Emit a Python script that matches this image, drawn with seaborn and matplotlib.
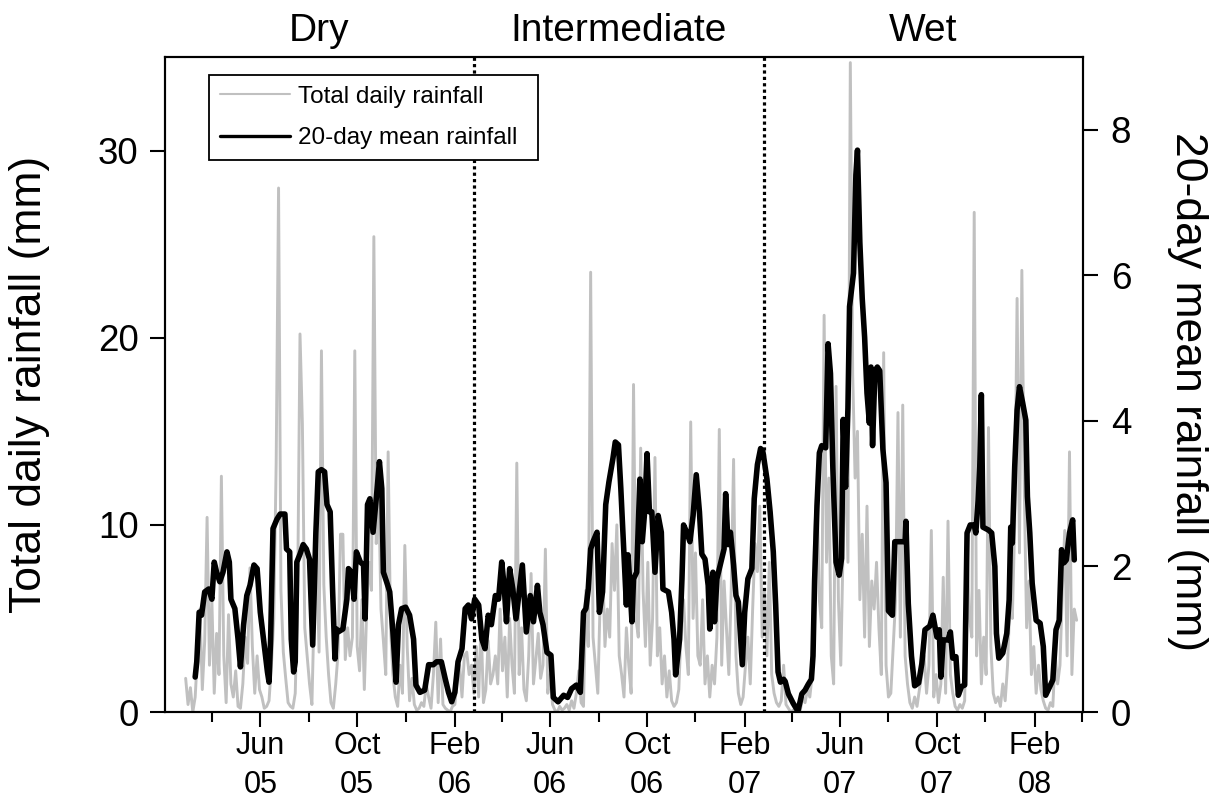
import pandas as pd
import matplotlib
matplotlib.use("Agg")
import matplotlib.pyplot as plt
import matplotlib.dates as mdates
from matplotlib.lines import Line2D
from matplotlib.transforms import blended_transform_factory
import seaborn as sns

# ---------------- data ----------------
# Total daily rainfall (mm), one reading every 3 days from the start date
daily_start = "2005-02-27"
daily_step = "3D"
daily_rain_mm = [
    1.8, 0.4, 1.3, 0.0, 0.8, 3.2, 5.5, 1.2, 3.8, 10.4,
    2.5, 6.0, 1.0, 4.2, 2.0, 12.6, 3.0, 0.5, 5.2, 1.5,
    0.8, 2.2, 0.3, 0.2, 1.5, 4.0, 2.6, 7.7, 3.5, 1.0,
    3.0, 1.2, 0.8, 0.2, 0.3, 0.6, 2.5, 5.0, 13.3, 28.0,
    6.5, 3.2, 1.8, 0.5, 0.3, 0.2, 1.0, 6.2, 20.2, 15.4,
    4.5, 3.0, 1.5, 0.4, 5.8, 8.5, 3.2, 19.3, 6.8, 4.0,
    2.0, 0.5, 0.2, 1.5, 3.2, 9.5, 9.5, 2.8, 4.5, 3.0,
    4.0, 19.3, 3.5, 2.2, 6.0, 1.2, 5.5, 8.0, 6.5, 25.4,
    9.0, 12.0, 5.5, 3.8, 2.0, 13.9, 4.5, 2.0, 0.8, 0.3,
    2.5, 1.0, 8.9, 3.5, 0.6, 1.8, 0.4, 0.1, 0.2, 0.5,
    0.3, 1.5, 0.8, 0.2, 2.0, 4.8, 0.5, 3.9, 0.4, 0.2,
    0.1, 0.0, 0.3, 0.4, 1.8, 2.5, 0.8, 3.0, 3.2, 2.0,
    2.5, 1.0, 3.5, 0.8, 4.8, 0.5, 1.2, 3.8, 1.5, 2.0,
    3.0, 1.5, 5.5, 2.2, 4.0, 0.8, 5.0, 2.5, 1.0, 13.3,
    2.0, 4.5, 1.2, 0.6, 3.0, 7.4, 1.5, 2.8, 4.2, 1.8,
    2.5, 8.7, 1.0, 2.0, 0.4, 0.1, 0.0, 0.3, 0.1, 0.2,
    0.4, 0.1, 0.6, 0.2, 1.0, 2.2, 0.5, 0.3, 6.5, 3.5,
    23.5, 4.0, 2.5, 1.0, 6.0, 8.0, 3.5, 5.5, 4.0, 9.0,
    6.5, 10.0, 3.0, 2.0, 0.8, 4.5, 2.5, 1.0, 17.5, 5.0,
    4.0, 14.1, 6.5, 3.5, 8.0, 2.5, 5.0, 13.6, 3.0, 4.5,
    1.5, 3.0, 0.8, 2.2, 0.6, 0.3, 0.5, 1.2, 4.5, 6.0,
    3.5, 2.0, 15.5, 5.0, 8.5, 3.0, 2.5, 6.0, 1.5, 3.0,
    0.8, 2.5, 1.5, 4.0, 15.1, 2.5, 7.0, 4.5, 2.0, 6.5,
    13.5, 3.0, 1.0, 0.4, 0.8, 2.5, 4.0, 1.5, 5.5, 9.0,
    7.5, 11.0, 4.0, 6.5, 3.0, 8.0, 2.0, 1.0, 0.5, 0.3,
    0.6, 2.5, 0.4, 0.2, 0.0, 0.1, 0.0, 0.3, 0.1, 0.8,
    0.5, 1.2, 0.8, 2.0, 9.5, 12.0, 6.0, 4.5, 21.2, 8.0,
    12.5, 3.0, 1.5, 17.4, 6.0, 2.5, 9.0, 14.0, 8.0, 34.7,
    18.0, 12.5, 15.0, 6.0, 9.5, 4.0, 11.0, 3.5, 7.0, 5.5,
    8.0, 4.5, 2.0, 19.2, 2.5, 0.8, 1.0, 3.5, 6.0, 16.0,
    4.0, 16.4, 3.0, 1.5, 0.5, 0.2, 0.8, 0.3, 1.2, 2.0,
    3.0, 1.0, 2.5, 9.7, 0.8, 2.0, 0.5, 1.5, 7.2, 1.0,
    10.2, 2.0, 1.0, 0.3, 0.1, 0.4, 0.2, 0.6, 9.0, 5.0,
    4.0, 26.7, 3.0, 6.5, 1.5, 4.0, 2.0, 15.2, 3.5, 1.0,
    0.5, 0.8, 0.3, 1.5, 0.6, 2.5, 6.0, 5.0, 10.0, 22.1,
    8.5, 23.6, 12.0, 4.5, 7.0, 2.0, 3.5, 1.0, 2.5, 1.2,
    0.6, 0.2, 0.1, 0.5, 0.3, 3.0, 1.5, 2.5, 6.5, 9.7,
    3.0, 13.9, 2.0, 5.5, 4.9,
]

# 20-day running mean rainfall (mm), keyed by days since the origin date
mean_origin = "2005-02-01"
mean_day = [
    38, 40, 43, 46, 50, 55, 59, 62, 65, 69, 73, 78, 81, 83, 88, 92, 95, 99,
    103, 107, 112, 116, 120, 124, 129, 131, 133, 136, 141, 145, 151, 153, 157,
    159, 162, 164, 166, 170, 174, 178, 182, 186, 188, 190, 193, 197, 201, 204,
    208, 211, 214, 216, 218, 224, 229, 231, 235, 238, 241, 246, 250, 252, 255,
    258, 262, 266, 270, 273, 275, 279, 283, 287, 291, 294, 298, 303, 308, 313,
    316, 321, 327, 332, 338, 342, 348, 353, 357, 361, 365, 369, 374, 378, 382,
    386, 390, 395, 399, 403, 407, 411, 416, 420, 424, 427, 430, 434, 438, 442,
    446, 450, 455, 460, 464, 469, 472, 476, 481, 486, 489, 495, 502, 507, 512,
    518, 523, 527, 530, 533, 536, 539, 544, 547, 551, 555, 559, 564, 567, 571,
    574, 577, 581, 583, 585, 588, 590, 594, 598, 601, 604, 607, 610, 613, 617,
    621, 625, 627, 634, 638, 641, 643, 648, 651, 653, 657, 661, 665, 669, 673,
    676, 680, 684, 686, 690, 692, 695, 700, 704, 706, 709, 712, 716, 719, 722,
    725, 727, 730, 734, 739, 742, 746, 750, 753, 758, 762, 766, 769, 772, 775,
    779, 781, 785, 791, 797, 802, 806, 810, 814, 816, 818, 821, 824, 827, 832,
    835, 838, 841, 845, 849, 852, 854, 857, 860, 862, 867, 870, 872, 875, 878,
    881, 884, 887, 889, 891, 894, 897, 900, 904, 908, 911, 916, 919, 925, 932,
    933, 936, 940, 944, 949, 953, 957, 963, 967, 972, 975, 977, 980, 986, 989,
    992, 996, 999, 1003, 1007, 1010, 1014, 1019, 1021, 1024, 1026, 1028, 1030,
    1037, 1041, 1045, 1047, 1050, 1055, 1060, 1063, 1065, 1067, 1070, 1073,
    1076, 1080, 1084, 1086, 1089, 1092, 1097, 1102, 1106, 1109, 1112, 1118,
    1122, 1126, 1129, 1132, 1135, 1139, 1143, 1145,
]
mean_rain_mm = [
    0.48, 0.69, 1.37, 1.33, 1.65, 1.69, 1.55, 2.06, 1.92, 1.79, 1.92, 2.20, 2.06, 1.55, 1.42, 1.00, 0.62, 1.20,
    1.60, 1.74, 2.02, 1.97, 1.37, 1.00, 0.55, 0.41, 1.00, 2.52, 2.65, 2.72, 2.72, 2.24, 2.20,
    1.00, 0.55, 0.69, 2.06, 2.17, 2.30, 2.24, 2.10, 0.92, 1.69, 2.47, 3.30, 3.33, 3.30, 2.85,
    2.75, 1.69, 0.73, 1.14, 1.10, 1.14, 1.55, 1.97, 1.92, 1.55, 2.20, 2.06, 2.02, 1.28, 2.85,
    2.93, 2.47, 2.93, 3.44, 3.07, 1.92, 1.79, 1.65, 1.10, 0.41, 1.20, 1.42, 1.44, 1.33, 1.00,
    0.37, 0.27, 0.30, 0.65, 0.65, 0.69, 0.69, 0.45, 0.27, 0.14, 0.27, 0.69, 0.87, 1.42, 1.47,
    1.28, 1.55, 1.47, 1.00, 0.87, 1.33, 1.20, 1.60, 1.55, 2.06, 1.74, 1.24, 1.97, 1.69, 1.28,
    1.65, 2.02, 1.10, 1.60, 1.24, 1.74, 1.37, 1.20, 0.82, 0.78, 0.20, 0.14, 0.23, 0.20, 0.32,
    0.37, 0.27, 1.37, 1.42, 1.69, 2.24, 2.34, 2.47, 1.37, 1.65, 2.85, 3.16, 3.48, 3.71, 3.67,
    3.07, 2.38, 1.47, 2.16, 1.83, 1.24, 1.83, 1.92, 3.20, 2.34, 2.75, 3.55, 2.75, 2.75, 1.92,
    2.70, 2.47, 1.69, 1.65, 1.37, 1.00, 0.51, 1.00, 1.83, 2.57, 2.47, 2.34, 2.70, 3.26, 2.75,
    2.17, 2.10, 1.74, 1.14, 1.92, 1.24, 1.83, 2.06, 2.24, 3.00, 2.30, 2.47, 2.02, 1.60, 1.51,
    1.00, 0.65, 1.37, 1.83, 1.97, 2.93, 3.40, 3.62, 3.57, 3.20, 2.75, 2.20, 1.47, 0.55, 0.41,
    0.45, 0.42, 0.25, 0.12, 0.01, 0.25, 0.30, 0.38, 0.45, 0.77, 1.80, 2.83, 3.56, 3.66, 3.63,
    5.06, 4.65, 3.35, 2.06, 1.88, 2.11, 4.02, 3.09, 4.18, 5.57, 6.03, 7.38, 7.72, 6.45, 5.68,
    5.15, 4.38, 3.97, 4.74, 3.66, 4.69, 4.74, 4.69, 3.61, 3.15, 1.39, 1.33, 2.34, 2.34, 2.34,
    2.62, 1.49, 0.77, 0.36, 0.40, 0.66, 1.13, 1.18, 1.33, 1.03, 1.13, 0.48, 0.99, 0.99, 1.10,
    0.74, 0.76, 0.23, 0.35, 0.37, 2.46, 2.57, 2.57, 2.46, 2.91, 3.37, 4.36, 2.54,
    2.50, 2.46, 2.00, 1.08, 0.74, 0.81, 1.08, 1.54, 2.54, 2.32, 3.37, 4.15,
    4.47, 4.25, 4.01, 2.96, 2.46, 1.77, 1.26, 1.22, 0.90, 0.23, 0.30, 0.44,
    1.13, 1.26, 2.23, 2.05, 2.09, 2.46, 2.64, 2.09,
]

period_names = ["Dry", "Intermediate", "Wet"]
period_breaks = ["2006-02-25", "2007-02-25"]
x_start, x_end = "2005-02-01", "2008-04-02"

major_ticks = ["2005-06-01", "2005-10-01", "2006-02-01", "2006-06-01", "2006-10-01",
               "2007-02-01", "2007-06-01", "2007-10-01", "2008-02-01"]
major_labels = ["Jun\n05", "Oct\n05", "Feb\n06", "Jun\n06", "Oct\n06",
                "Feb\n07", "Jun\n07", "Oct\n07", "Feb\n08"]
minor_ticks = ["2005-04-01", "2005-08-01", "2005-12-01", "2006-04-01", "2006-08-01",
               "2006-12-01", "2007-04-01", "2007-08-01", "2007-12-01", "2008-04-01"]
left_ticks = [0, 10, 20, 30]
right_ticks = [0, 2, 4, 6, 8]
left_max, right_max = 35, 9

# ---------------- frames ----------------
daily = pd.DataFrame({
    "date": pd.date_range(daily_start, periods=len(daily_rain_mm), freq=daily_step),
    "rain": daily_rain_mm,
})
running = pd.DataFrame({
    "date": pd.Timestamp(mean_origin) + pd.to_timedelta(mean_day, unit="D"),
    "rain": mean_rain_mm,
})

# ---------------- style ----------------
sns.set_style("ticks")
plt.rcParams["font.family"] = ["Liberation Sans", "DejaVu Sans"]
plt.rcParams.update({
    "axes.linewidth": 1.5,
    "axes.edgecolor": "black",
    "text.color": "black",
    "axes.labelcolor": "black",
    "xtick.color": "black",
    "ytick.color": "black",
})

GRAY = "#c0c0c0"

fig = plt.figure(figsize=(12.25, 7.98), dpi=100)
ax = fig.add_axes([165 / 1225, 86 / 798, 918 / 1225, 655 / 798])

sns.lineplot(data=daily, x="date", y="rain", ax=ax, color=GRAY, lw=2.1,
             legend=False, estimator=None)
for b in period_breaks:
    ax.axvline(pd.Timestamp(b), color="black", lw=2.3, linestyle=(0, (1, 1)), zorder=3)

ax2 = ax.twinx()
sns.lineplot(data=running, x="date", y="rain", ax=ax2, color="black", lw=4.0,
             legend=False, estimator=None)

ax.set_xlim(pd.Timestamp(x_start), pd.Timestamp(x_end))
ax.set_ylim(0, left_max)
ax2.set_ylim(0, right_max)

ax.set_xticks(pd.to_datetime(major_ticks))
ax.set_xticklabels(major_labels, linespacing=1.38)
ax.set_xticks(pd.to_datetime(minor_ticks), minor=True)
ax.set_yticks(left_ticks)
ax2.set_yticks(right_ticks)

ax.tick_params(axis="x", which="major", length=11, width=1.5, direction="out",
               labelsize=22, pad=3)
ax.tick_params(axis="x", which="minor", length=7, width=1.5, direction="out")
ax.tick_params(axis="y", length=11, width=1.5, direction="out", labelsize=26.5, pad=8)
ax2.tick_params(axis="y", length=11, width=1.5, direction="out", labelsize=26.5, pad=9)

for a in (ax, ax2):
    for s in a.spines.values():
        s.set_visible(True)
        s.set_linewidth(1.5)
        s.set_color("black")

ax.set_xlabel("")
ax.set_ylabel("Total daily rainfall (mm)", fontsize=32)
ax.yaxis.set_label_coords(-0.1253, 0.5)
ax2.set_ylabel("20-day mean rainfall (mm)", fontsize=32, rotation=270, va="bottom")
ax2.yaxis.set_label_coords(1.0915, 0.49)

# period names centred over each block
trans = blended_transform_factory(ax.transData, ax.transAxes)
bounds = pd.to_datetime([x_start] + period_breaks + [x_end])
for name, a, b in zip(period_names, bounds[:-1], bounds[1:]):
    mid = a + (b - a) / 2
    ax.text(mdates.date2num(mid), 1.039, name, transform=trans,
            ha="center", va="center", fontsize=28)

handles = [Line2D([], [], color=GRAY, lw=1.5), Line2D([], [], color="black", lw=2.4)]
leg = ax2.legend(handles, ["Total daily rainfall", "20-day mean rainfall"],
                 loc="upper left", bbox_to_anchor=(0.048, 0.8443, 0.3584, 0.1282),
                 mode="expand", frameon=True, fancybox=False, edgecolor="black",
                 framealpha=1, fontsize=17.5, handlelength=2.9, handletextpad=0.3,
                 labelspacing=0.8, borderpad=0.45, borderaxespad=0)
leg.get_frame().set_linewidth(1.3)

fig.savefig("out.png", dpi=100)
